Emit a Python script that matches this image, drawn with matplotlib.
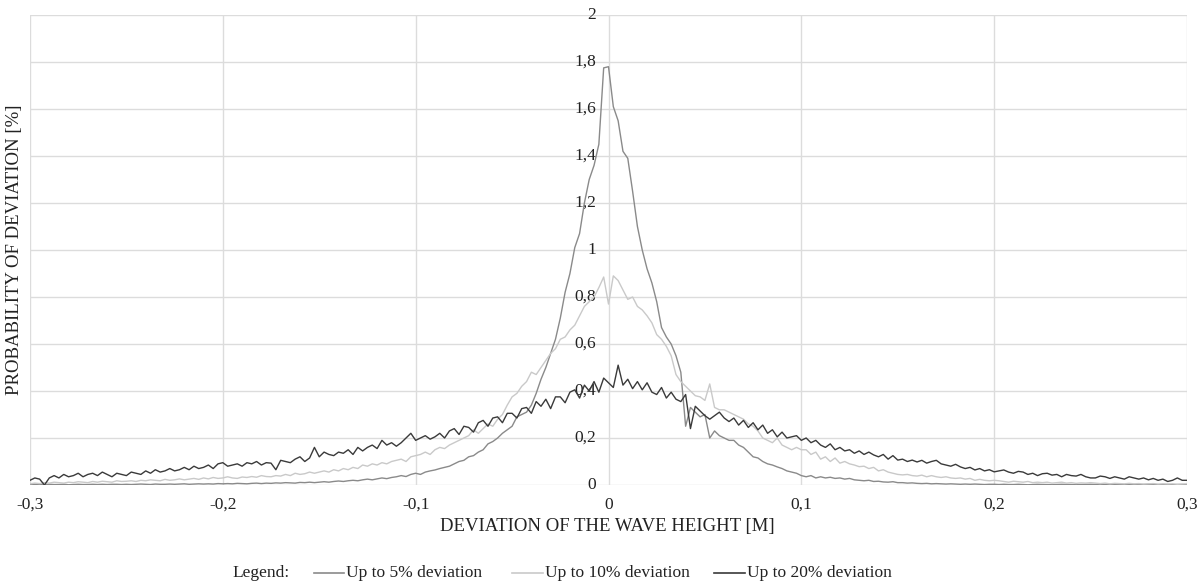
import numpy as np
import matplotlib
matplotlib.use("Agg")
import matplotlib.pyplot as plt

# x positions: deviation of the wave height [m], step 0.0025 from -0.3 to 0.3
x_start, x_stop, x_step = -0.3, 0.3, 0.0025

y_ticks = [0, 0.2, 0.4, 0.6, 0.8, 1.0, 1.2, 1.4, 1.6, 1.8, 2.0]
y_tick_labels = ["0", "0,2", "0,4", "0,6", "0,8", "1", "1,2", "1,4", "1,6", "1,8", "2"]
x_ticks = [-0.3, -0.2, -0.1, 0, 0.1, 0.2, 0.3]
x_tick_labels = ["-0,3", "-0,2", "-0,1", "0", "0,1", "0,2", "0,3"]

series_names = ["Up to 5% deviation", "Up to 10% deviation", "Up to 20% deviation"]

dev5 = [
    0.002,0.003,0.002,0.001,0.003,0.002,0.002,0.003,0.001,0.002,0.003,0.002,0.002,0.003,0.002,0.003,0.002,0.003,0.003,0.002,
    0.003,0.002,0.003,0.004,0.003,0.002,0.004,0.003,0.003,0.004,0.003,0.004,0.005,0.003,0.004,0.005,0.004,0.005,0.004,0.006,
    0.005,0.006,0.005,0.007,0.006,0.005,0.007,0.008,0.006,0.008,0.007,0.009,0.008,0.010,0.009,0.008,0.011,0.010,0.012,0.010,
    0.012,0.014,0.012,0.015,0.017,0.015,0.018,0.020,0.018,0.022,0.025,0.022,0.026,0.030,0.027,0.032,0.035,0.040,0.036,0.045,
    0.050,0.045,0.055,0.060,0.064,0.070,0.075,0.080,0.090,0.100,0.105,0.120,0.125,0.140,0.150,0.175,0.185,0.200,0.220,0.235,
    0.250,0.290,0.300,0.310,0.340,0.390,0.450,0.500,0.560,0.620,0.710,0.820,0.900,1.010,1.070,1.200,1.300,1.360,1.450,1.775,
    1.780,
    1.610,1.550,1.420,1.390,1.250,1.100,1.000,0.920,0.860,0.780,0.670,0.630,0.600,0.550,0.480,0.250,0.330,0.310,0.290,0.300,
    0.200,0.230,0.210,0.200,0.190,0.190,0.170,0.160,0.140,0.120,0.115,0.100,0.090,0.085,0.077,0.070,0.060,0.055,0.050,0.040,
    0.035,0.040,0.030,0.035,0.030,0.033,0.028,0.030,0.025,0.028,0.022,0.020,0.018,0.020,0.015,0.016,0.013,0.012,0.014,0.010,
    0.010,0.008,0.009,0.007,0.006,0.007,0.005,0.006,0.005,0.004,0.005,0.004,0.003,0.004,0.003,0.004,0.003,0.002,0.003,0.003,
    0.002,0.003,0.002,0.002,0.003,0.002,0.001,0.002,0.003,0.002,0.002,0.001,0.002,0.003,0.002,0.002,0.001,0.002,0.002,0.003,
    0.002,0.001,0.002,0.002,0.003,0.002,0.001,0.002,0.002,0.001,0.002,0.003,0.002,0.001,0.002,0.002,0.001,0.002,0.002,0.001,
]

dev10 = [
    0.005,0.008,0.006,0.010,0.008,0.012,0.010,0.008,0.012,0.010,0.014,0.012,0.010,0.015,0.012,0.016,0.014,0.012,0.018,0.015,
    0.016,0.018,0.015,0.020,0.018,0.022,0.020,0.018,0.024,0.020,0.022,0.026,0.022,0.025,0.028,0.024,0.030,0.026,0.032,0.028,
    0.030,0.035,0.030,0.028,0.034,0.032,0.036,0.033,0.040,0.036,0.035,0.040,0.038,0.045,0.040,0.050,0.045,0.048,0.055,0.050,
    0.055,0.060,0.055,0.065,0.060,0.070,0.065,0.075,0.070,0.085,0.080,0.090,0.085,0.095,0.090,0.100,0.105,0.110,0.100,0.120,
    0.125,0.130,0.140,0.130,0.150,0.160,0.155,0.170,0.180,0.190,0.200,0.210,0.235,0.220,0.240,0.260,0.250,0.280,0.300,0.340,
    0.375,0.390,0.420,0.440,0.480,0.470,0.500,0.530,0.560,0.580,0.620,0.630,0.660,0.680,0.720,0.760,0.780,0.800,0.840,0.885,
    0.770,
    0.890,0.870,0.830,0.790,0.800,0.760,0.745,0.720,0.690,0.640,0.620,0.590,0.550,0.470,0.440,0.420,0.400,0.380,0.375,0.360,
    0.430,0.330,0.320,0.320,0.310,0.300,0.290,0.280,0.260,0.250,0.230,0.200,0.190,0.180,0.200,0.170,0.160,0.150,0.160,0.150,
    0.150,0.130,0.140,0.110,0.120,0.100,0.115,0.093,0.100,0.090,0.085,0.078,0.080,0.070,0.075,0.060,0.065,0.055,0.050,0.045,
    0.043,0.045,0.040,0.038,0.042,0.035,0.040,0.035,0.032,0.035,0.030,0.028,0.030,0.025,0.028,0.020,0.024,0.020,0.018,0.020,
    0.018,0.015,0.012,0.016,0.014,0.012,0.015,0.010,0.012,0.010,0.012,0.008,0.010,0.012,0.008,0.010,0.007,0.009,0.008,0.010,
    0.008,0.006,0.008,0.005,0.007,0.006,0.005,0.007,0.005,0.006,0.004,0.005,0.006,0.004,0.005,0.004,0.005,0.003,0.004,0.005,
]

dev20 = [
    0.020,0.030,0.025,0.000,0.030,0.040,0.030,0.045,0.035,0.040,0.050,0.035,0.045,0.050,0.040,0.055,0.045,0.035,0.050,0.045,
    0.040,0.055,0.050,0.045,0.060,0.050,0.065,0.055,0.060,0.070,0.060,0.065,0.075,0.065,0.080,0.070,0.075,0.085,0.070,0.090,
    0.095,0.080,0.085,0.090,0.080,0.095,0.090,0.100,0.085,0.095,0.093,0.065,0.105,0.100,0.095,0.110,0.120,0.100,0.115,0.160,
    0.120,0.140,0.130,0.125,0.140,0.135,0.150,0.130,0.160,0.145,0.160,0.170,0.155,0.190,0.170,0.180,0.165,0.180,0.200,0.220,
    0.190,0.200,0.210,0.195,0.205,0.220,0.200,0.230,0.240,0.215,0.250,0.245,0.225,0.265,0.275,0.250,0.285,0.290,0.265,0.305,
    0.305,0.285,0.325,0.330,0.305,0.355,0.335,0.365,0.325,0.375,0.375,0.350,0.395,0.405,0.370,0.425,0.400,0.440,0.395,0.455,
    0.435,
    0.415,0.510,0.425,0.450,0.410,0.440,0.405,0.435,0.395,0.385,0.415,0.370,0.395,0.365,0.355,0.385,0.240,0.335,0.315,0.295,
    0.280,0.295,0.310,0.285,0.270,0.285,0.255,0.275,0.245,0.265,0.235,0.255,0.220,0.235,0.205,0.225,0.200,0.205,0.210,0.190,
    0.200,0.180,0.190,0.170,0.160,0.175,0.150,0.160,0.145,0.150,0.135,0.145,0.130,0.140,0.128,0.120,0.130,0.110,0.125,0.106,
    0.110,0.100,0.106,0.098,0.105,0.093,0.100,0.105,0.090,0.085,0.080,0.088,0.077,0.070,0.075,0.064,0.070,0.060,0.065,0.056,
    0.060,0.064,0.055,0.050,0.058,0.055,0.045,0.050,0.040,0.048,0.050,0.042,0.045,0.035,0.045,0.040,0.038,0.045,0.035,0.030,
    0.030,0.038,0.035,0.028,0.035,0.030,0.025,0.035,0.030,0.025,0.030,0.022,0.028,0.020,0.025,0.015,0.020,0.030,0.020,0.020,
]

colors = ["#8a8a8a", "#c9c9c9", "#3a3a3a"]

n = len(dev5)
x = np.linspace(x_start, x_stop, n)

plt.rcParams["font.family"] = ["Liberation Serif", "DejaVu Serif"]

fig = plt.figure(figsize=(12.03, 5.83), dpi=100)
ax = fig.add_axes([30 / 1203, 1 - 485 / 583, (1187 - 30) / 1203, (485 - 15) / 583])

for vals, c in zip([dev5, dev10, dev20], colors):
    ax.plot(x, vals, color=c, lw=1.0, zorder=3)

ax.set_xlim(-0.3, 0.3)
ax.set_ylim(0, 2)
for s in ax.spines.values():
    s.set_visible(False)
ax.set_xticks(x_ticks)
ax.set_yticks(y_ticks)
ax.grid(True, color="#dcdcdc", lw=1.0, zorder=0)
ax.tick_params(length=0, labelleft=False, labelbottom=False)

# y tick labels along the x=0 axis
for v, lab in zip(y_ticks, y_tick_labels):
    ax.text(-0.0065, v, lab, ha="right", va="center", fontsize=12.5, color="#222222", zorder=2)
# x tick labels
for v, lab in zip(x_ticks, x_tick_labels):
    ax.text(v, -0.085, lab, ha="center", va="center", fontsize=12.5, color="#222222", clip_on=False)

fig.text(607 / 1203, 1 - 526 / 583, "DEVIATION OF THE WAVE HEIGHT [M]", ha="center", va="center",
         fontsize=13.5, color="#222222")
fig.text(15 / 1203, 1 - 250 / 583, "PROBABILITY OF DEVIATION [%]", ha="center", va="center",
         rotation=90, fontsize=13.5, color="#222222")

# legend row
ly = 1 - 573 / 583
fig.text(232 / 1203, ly, "Legend:", ha="left", va="center", fontsize=12.5, color="#222222")
line_pos = [(314, 344), (512, 543), (714, 745)]
for (a, b), c, name in zip(line_pos, colors, series_names):
    fig.add_artist(plt.Line2D([a / 1203, b / 1203], [ly, ly], color=c, lw=1.2, transform=fig.transFigure))
    fig.text((b + 2) / 1203, ly, name, ha="left", va="center", fontsize=12.5, color="#222222")

fig.savefig("out.png", dpi=100)
